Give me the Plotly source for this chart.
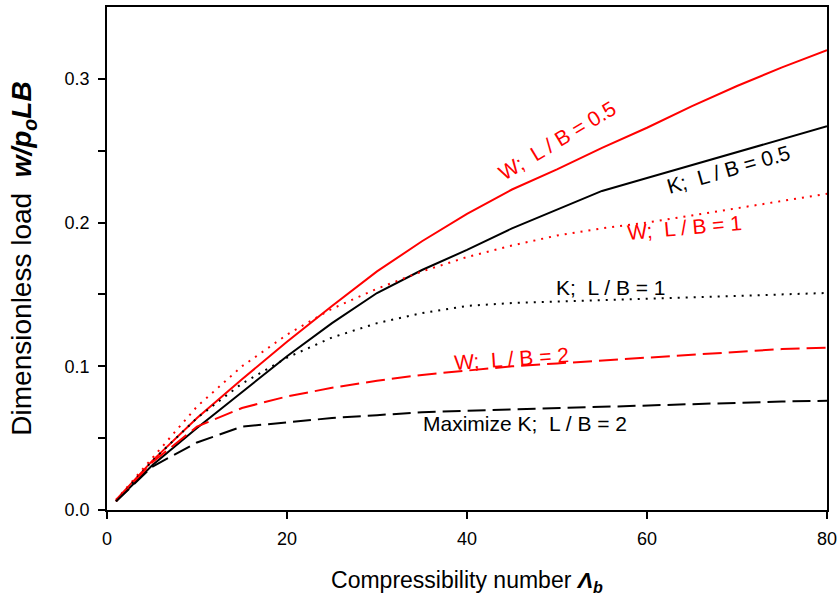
import plotly.graph_objects as go

# Compressibility number grid
lam = [1, 5, 10, 15, 20, 25, 30, 35, 40, 45, 50, 55, 60, 65, 70, 75, 80]

# W; L/B = 0.5 (red solid)
w_lb05 = [0.007, 0.034, 0.064, 0.091, 0.117, 0.142, 0.166, 0.187, 0.206, 0.223, 0.237, 0.252, 0.266, 0.281, 0.295, 0.308, 0.320]
# K; L/B = 0.5 (black solid)
k_lb05 = [0.006, 0.031, 0.057, 0.082, 0.107, 0.130, 0.151, 0.167, 0.181, 0.196, 0.209, 0.222, 0.231, 0.240, 0.249, 0.258, 0.267]
# W; L/B = 1 (red dotted)
w_lb1 = [0.007, 0.036, 0.072, 0.100, 0.122, 0.140, 0.154, 0.166, 0.176, 0.184, 0.191, 0.196, 0.200, 0.205, 0.210, 0.215, 0.220]
# K; L/B = 1 (black dotted)
k_lb1 = [0.006, 0.034, 0.064, 0.088, 0.106, 0.120, 0.130, 0.137, 0.142, 0.144, 0.145, 0.146, 0.147, 0.148, 0.149, 0.150, 0.151]
# W; L/B = 2 (red dashed)
w_lb2 = [0.006, 0.033, 0.058, 0.071, 0.079, 0.085, 0.090, 0.094, 0.097, 0.100, 0.102, 0.104, 0.106, 0.108, 0.110, 0.112, 0.113]
# Maximize K; L/B = 2 (black dashed)
k_lb2 = [0.006, 0.030, 0.047, 0.058, 0.061, 0.064, 0.066, 0.068, 0.069, 0.070, 0.071, 0.072, 0.073, 0.074, 0.075, 0.0755, 0.076]

x_ticks = [0, 20, 40, 60, 80]
y_ticks = [0.0, 0.1, 0.2, 0.3]
y_tick_labels = ["0.0", "0.1", "0.2", "0.3"]
y_minor = [0.05, 0.15, 0.25]

RED = "#ff0000"
BLACK = "#000000"
FONT = "Arial, Liberation Sans, sans-serif"

series = [
    ("W; L/B=0.5", w_lb05, RED, "solid"),
    ("K; L/B=0.5", k_lb05, BLACK, "solid"),
    ("W; L/B=1", w_lb1, RED, "2px,6px"),
    ("K; L/B=1", k_lb1, BLACK, "2px,6px"),
    ("W; L/B=2", w_lb2, RED, "19px,7px"),
    ("Maximize K; L/B=2", k_lb2, BLACK, "18px,7px"),
]

fig = go.Figure()
for name, ys, col, dash in series:
    fig.add_trace(go.Scatter(x=lam, y=ys, mode="lines", name=name,
                             line=dict(color=col, width=2, dash=dash),
                             showlegend=False))

NB = "\u00a0"
labels = [
    ("W;" + NB + " L / B = 0.5", 50.0, 0.2570, RED, -31),
    ("K;" + NB + " L / B = 0.5", 69.0, 0.2366, BLACK, -16),
    ("W;" + NB + " L / B = 1", 64.2, 0.1969, RED, -5),
    ("K;" + NB + " L / B = 1", 56.0, 0.1545, BLACK, 0),
    ("W;" + NB + " L / B = 2", 44.9, 0.1055, RED, -4),
    ("Maximize K;" + NB + " L / B = 2", 46.4, 0.0603, BLACK, 0),
]
for txt, ax_, ay_, col, ang in labels:
    fig.add_annotation(x=ax_, y=ay_, xref="x", yref="y", text=txt,
                       showarrow=False, textangle=ang,
                       font=dict(family=FONT, size=21, color=col))

fig.update_layout(
    width=839, height=603,
    margin=dict(l=107, r=12, t=7, b=93),
    paper_bgcolor="white", plot_bgcolor="white",
    font=dict(family=FONT, color="black"),
)
fig.update_xaxes(
    range=[0, 80], tickvals=x_ticks, ticks="outside", ticklen=7, tickwidth=1.5,
    tickcolor="black", showline=True, linecolor="black", linewidth=1.5,
    mirror=True, showgrid=False, zeroline=False, ticklabelstandoff=5,
    automargin=False,
    tickfont=dict(family=FONT, size=18),
    title=dict(text="Compressibility number <b><i>\u039b<sub>b</sub></i></b>",
               font=dict(family=FONT, size=23), standoff=24),
)
fig.update_yaxes(
    range=[0, 0.35], tickvals=y_ticks, ticktext=y_tick_labels, ticks="outside",
    ticklen=7, tickwidth=1.5, tickcolor="black", showline=True,
    linecolor="black", linewidth=1.5, mirror=True, showgrid=False,
    zeroline=False, ticklabelstandoff=5, automargin=False,
    tickfont=dict(family=FONT, size=18),
    minor=dict(tickvals=y_minor, ticks="outside", ticklen=7, tickwidth=1.5,
               tickcolor="black", showgrid=False),
    title=dict(text="Dimensionless load" + NB + " <b><i>w/p<sub>o</sub>LB</i></b>",
               font=dict(family=FONT, size=28), standoff=25),
)

fig.write_html("out.html", config={"displayModeBar": False},
               post_script="document.body.style.margin='0';")
